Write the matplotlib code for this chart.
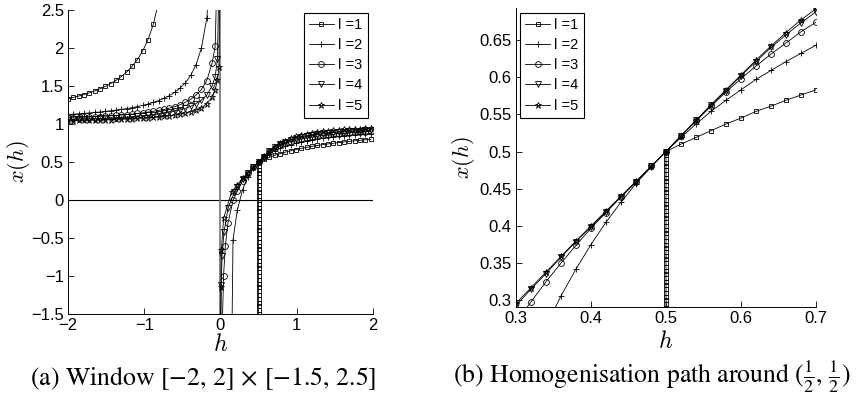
import numpy as np
import matplotlib
matplotlib.use("Agg")
import matplotlib.pyplot as plt

plt.rcParams['font.family'] = ['Liberation Sans', 'DejaVu Sans']

# ------------------------------------------------------------------
# Panel (a): window [-2,2] x [-1.5,2.5]
# ------------------------------------------------------------------
h_left = [-2.00, -1.93, -1.86, -1.79, -1.72, -1.65, -1.58, -1.51, -1.44, -1.37,
          -1.30, -1.23, -1.16, -1.09, -1.02, -0.95, -0.88, -0.81, -0.74, -0.67,
          -0.60, -0.53, -0.46, -0.39, -0.32, -0.25, -0.18, -0.11, -0.07, -0.04,
          -0.02, -0.01]
h_right = [0.22, 0.29, 0.36, 0.43, 0.50, 0.57, 0.64, 0.71, 0.78, 0.85, 0.92,
           0.99, 1.06, 1.13, 1.20, 1.27, 1.34, 1.41, 1.48, 1.55, 1.62, 1.69,
           1.76, 1.83, 1.90, 1.97]

# l = 1
a_l1_left = [1.333, 1.350, 1.368, 1.388, 1.410, 1.435, 1.463, 1.495, 1.532,
             1.575, 1.625, 1.685, 1.758, 1.847, 1.962, 2.111, 2.316, 2.613]
a_l1_path_h = 0.5
a_l1_path = [-1.50, -1.45, -1.40, -1.35, -1.30, -1.25, -1.20, -1.15, -1.10, -1.05,
             -1.00, -0.95, -0.90, -0.85, -0.80, -0.75, -0.70, -0.65, -0.60, -0.55,
             -0.50, -0.45, -0.40, -0.35, -0.30, -0.25, -0.20, -0.15, -0.10, -0.05,
             0.00, 0.05, 0.10, 0.15, 0.20, 0.25, 0.30, 0.35, 0.40, 0.45]
a_l1_right = [0.500, 0.533, 0.561, 0.587, 0.609, 0.630, 0.648, 0.664, 0.679,
              0.693, 0.706, 0.718, 0.728, 0.738, 0.747, 0.756, 0.764, 0.772,
              0.779, 0.785, 0.792, 0.798]
# l = 2
a_l2_left = [1.125, 1.130, 1.134, 1.140, 1.145, 1.152, 1.158, 1.166, 1.174, 1.182,
             1.192, 1.203, 1.216, 1.229, 1.245, 1.263, 1.284, 1.309, 1.338, 1.373,
             1.417, 1.472, 1.543, 1.641, 1.781, 2.000, 2.389, 3.273, 4.571, 7.25,
             13.5, 26.0]
a_l2_pole_h = [0.145, 0.164]
a_l2_pole = [-2.2, -0.524]
a_l2_right = [-0.136, 0.138, 0.306, 0.419, 0.500, 0.561, 0.609, 0.648, 0.679,
              0.706, 0.728, 0.747, 0.764, 0.779, 0.792, 0.803, 0.813, 0.823,
              0.831, 0.839, 0.846, 0.852, 0.858, 0.863, 0.868, 0.873]
# l = 3
a_l3_left = [1.079, 1.081, 1.084, 1.088, 1.091, 1.095, 1.098, 1.103, 1.108, 1.112,
             1.118, 1.124, 1.131, 1.139, 1.147, 1.157, 1.167, 1.180, 1.192, 1.209,
             1.228, 1.253, 1.285, 1.326, 1.381, 1.456, 1.572, 1.800, 2.020, 3.2,
             6.0, 12.0]
a_l3_pole_h = [0.025, 0.040, 0.064, 0.098, 0.167]
a_l3_pole = [-1.6, -1.0, -0.6, -0.3, 0.0]
a_l3_right = [0.113, 0.255, 0.350, 0.428, 0.500, 0.570, 0.631, 0.680, 0.718,
              0.745, 0.768, 0.787, 0.803, 0.816, 0.828, 0.839, 0.849, 0.858,
              0.866, 0.873, 0.879, 0.885, 0.890, 0.895, 0.899, 0.903]
# l = 4
a_l4_left = [1.058, 1.060, 1.063, 1.065, 1.067, 1.070, 1.073, 1.076, 1.080, 1.083,
             1.087, 1.091, 1.096, 1.102, 1.108, 1.115, 1.122, 1.131, 1.142, 1.154,
             1.168, 1.186, 1.206, 1.233, 1.268, 1.317, 1.380, 1.500, 1.620, 1.850,
             3.0, 6.0]
a_l4_pole_h = [0.006, 0.010, 0.020, 0.046, 0.101, 0.182]
a_l4_pole = [-1.6, -1.12, -0.74, -0.42, -0.10, 0.10]
a_l4_right = [0.165, 0.278, 0.358, 0.429, 0.500, 0.572, 0.640, 0.695, 0.733,
              0.761, 0.786, 0.806, 0.823, 0.837, 0.850, 0.861, 0.871, 0.879,
              0.887, 0.893, 0.899, 0.904, 0.909, 0.913, 0.917, 0.921]
# l = 5
a_l5_left = [1.044, 1.046, 1.047, 1.049, 1.050, 1.052, 1.054, 1.056, 1.059, 1.061,
             1.064, 1.067, 1.070, 1.074, 1.078, 1.082, 1.087, 1.093, 1.100, 1.108,
             1.118, 1.130, 1.144, 1.163, 1.185, 1.212, 1.267, 1.350, 1.450, 1.580,
             1.750, 3.0]
a_l5_pole_h = [0.002, 0.004, 0.011, 0.041, 0.147]
a_l5_pole = [-1.6, -1.15, -0.66, -0.24, 0.11]
a_l5_right = [0.200, 0.284, 0.359, 0.430, 0.500, 0.573, 0.642, 0.699, 0.745,
              0.782, 0.812, 0.836, 0.856, 0.873, 0.888, 0.900, 0.908, 0.914,
              0.919, 0.924, 0.928, 0.932, 0.935, 0.938, 0.941, 0.943]

# ------------------------------------------------------------------
# Panel (b): zoom around (1/2, 1/2)
# ------------------------------------------------------------------
h_b = [0.30, 0.32, 0.34, 0.36, 0.38, 0.40, 0.42, 0.44, 0.46, 0.48, 0.50,
       0.52, 0.54, 0.56, 0.58, 0.60, 0.62, 0.64, 0.66, 0.68, 0.70]
b_l1_path = [0.290, 0.295, 0.300, 0.305, 0.310, 0.315, 0.320, 0.325, 0.330,
             0.335, 0.340, 0.345, 0.350, 0.355, 0.360, 0.365, 0.370, 0.375,
             0.380, 0.385, 0.390, 0.395, 0.400, 0.405, 0.410, 0.415, 0.420,
             0.425, 0.430, 0.435, 0.440, 0.445, 0.450, 0.455, 0.460, 0.465,
             0.470, 0.475, 0.480, 0.485, 0.490, 0.495]
b_l1 = [0.500, 0.510, 0.519, 0.528, 0.537, 0.545, 0.554, 0.561, 0.569, 0.576, 0.583]
b_l2 = [0.265, 0.306, 0.342, 0.375, 0.405, 0.432, 0.457, 0.479, 0.500, 0.519,
        0.537, 0.554, 0.569, 0.583, 0.597, 0.609, 0.621, 0.632, 0.643]
b_l3 = [0.270, 0.298, 0.325, 0.350, 0.374, 0.397, 0.418, 0.439, 0.459, 0.480,
        0.500, 0.521, 0.541, 0.561, 0.580, 0.598, 0.615, 0.631, 0.646, 0.661, 0.674]
b_l4 = [0.293, 0.315, 0.336, 0.358, 0.379, 0.399, 0.419, 0.439, 0.459, 0.480,
        0.500, 0.521, 0.542, 0.562, 0.582, 0.602, 0.621, 0.640, 0.657, 0.673, 0.688]
b_l5 = [0.296, 0.317, 0.338, 0.359, 0.380, 0.400, 0.420, 0.440, 0.460, 0.480,
        0.500, 0.521, 0.542, 0.563, 0.583, 0.603, 0.623, 0.642, 0.660, 0.677, 0.692]

labels = ['l =1', 'l =2', 'l =3', 'l =4', 'l =5']
markers = ['s', '+', 'o', 'v', '*']
msizes = [3.4, 5.0, 4.2, 4.6, 5.0]


def join(*parts):
    hs, xs = [], []
    for h, x in parts:
        hs.extend(list(h) + [np.nan])
        xs.extend(list(x) + [np.nan])
    return np.array(hs[:-1], float), np.array(xs[:-1], float)


n_left1 = len(a_l1_left)
series_a = [
    join((h_left[:n_left1], a_l1_left),
         ([a_l1_path_h] * len(a_l1_path) + h_right[4:], a_l1_path + a_l1_right)),
    join((h_left, a_l2_left), (a_l2_pole_h + h_right, a_l2_pole + a_l2_right)),
    join((h_left, a_l3_left), (a_l3_pole_h + h_right, a_l3_pole + a_l3_right)),
    join((h_left, a_l4_left), (a_l4_pole_h + h_right, a_l4_pole + a_l4_right)),
    join((h_left, a_l5_left), (a_l5_pole_h + h_right, a_l5_pole + a_l5_right)),
]
series_b = [
    join(([a_l1_path_h] * len(b_l1_path) + h_b[10:], b_l1_path + b_l1)),
    join((h_b[2:], b_l2)),
    join((h_b, b_l3)),
    join((h_b, b_l4)),
    join((h_b, b_l5)),
]

W, H = 862, 396
fig = plt.figure(figsize=(W / 100, H / 100), dpi=100)

ax1 = fig.add_axes([68 / W, 1 - 314 / H, 305 / W, 304 / H])
ax2 = fig.add_axes([516 / W, 1 - 307 / H, 300 / W, 299 / H])


def style(ax):
    for s in ['top', 'right']:
        ax.spines[s].set_visible(False)
    for s in ['left', 'bottom']:
        ax.spines[s].set_linewidth(0.7)
    ax.tick_params(direction='in', length=4, width=0.6, labelsize=12, pad=3)


def draw(ax, series):
    handles = []
    for (hh, xx), m, ms, lab in zip(series, markers, msizes, labels):
        ln, = ax.plot(hh, xx, color='black', lw=0.6, marker=m, ms=ms,
                      mfc='none', mec='black', mew=0.6, label=lab)
        handles.append(ln)
    return handles


# panel (a)
ax1.axhline(0, color='black', lw=0.8, zorder=1)
ax1.axvline(0, color='0.45', lw=1.2, zorder=1)
hd1 = draw(ax1, series_a)
ax1.set_xlim(-2, 2)
ax1.set_ylim(-1.5, 2.5)
ax1.set_xticks([-2, -1, 0, 1, 2])
ax1.set_yticks([-1.5, -1, -0.5, 0, 0.5, 1, 1.5, 2, 2.5])
ax1.set_yticklabels(['\u22121.5', '\u22121', '\u22120.5', '0', '0.5', '1', '1.5', '2', '2.5'])
ax1.set_xticklabels(['\u22122', '\u22121', '0', '1', '2'])
style(ax1)
ax1.set_xlabel(r'$h$', fontsize=17, math_fontfamily='cm')
ax1.set_ylabel(r'$x(h)$', fontsize=16, math_fontfamily='cm')
ax1.xaxis.set_label_coords(0.5, -0.065)
ax1.yaxis.set_label_coords(-0.118, 0.5)

# panel (b)
hd2 = draw(ax2, series_b)
ax2.set_xlim(0.3, 0.7)
ax2.set_ylim(0.291, 0.693)
ax2.set_xticks([0.3, 0.4, 0.5, 0.6, 0.7])
ax2.set_yticks([0.3, 0.35, 0.4, 0.45, 0.5, 0.55, 0.6, 0.65])
ax2.set_xticklabels(['0.3', '0.4', '0.5', '0.6', '0.7'])
ax2.set_yticklabels(['0.3', '0.35', '0.4', '0.45', '0.5', '0.55', '0.6', '0.65'])
style(ax2)
ax2.set_xlabel(r'$h$', fontsize=17, math_fontfamily='cm')
ax2.set_ylabel(r'$x(h)$', fontsize=16, math_fontfamily='cm')
ax2.xaxis.set_label_coords(0.5, -0.08)
ax2.yaxis.set_label_coords(-0.13, 0.5)

leg_kw = dict(loc='upper left', borderaxespad=0, fontsize=10.5, frameon=True,
              fancybox=False, framealpha=1, edgecolor='black', handlelength=1.7,
              handletextpad=0.3, labelspacing=0.42, borderpad=0.35, numpoints=1)
l1 = fig.legend(handles=hd1, bbox_to_anchor=(304 / W, 1 - 13 / H), **leg_kw)
l2 = fig.legend(handles=hd2, bbox_to_anchor=(520 / W, 1 - 13 / H), **leg_kw)
for lg in (l1, l2):
    lg.get_frame().set_linewidth(0.8)

fig.text(203 / W, 1 - 378 / H, r'(a) Window $[-2,\,2]\,\times\,[-1.5,\,2.5]$',
         ha='center', va='center', fontsize=18.5, family='STIXGeneral',
         math_fontfamily='stix')
fig.text(652 / W, 1 - 377 / H,
         r'(b) Homogenisation path around $(\frac{1}{2},\,\frac{1}{2})$',
         ha='center', va='center', fontsize=18.5, family='STIXGeneral',
         math_fontfamily='stix')

fig.savefig('out.png', dpi=100)
